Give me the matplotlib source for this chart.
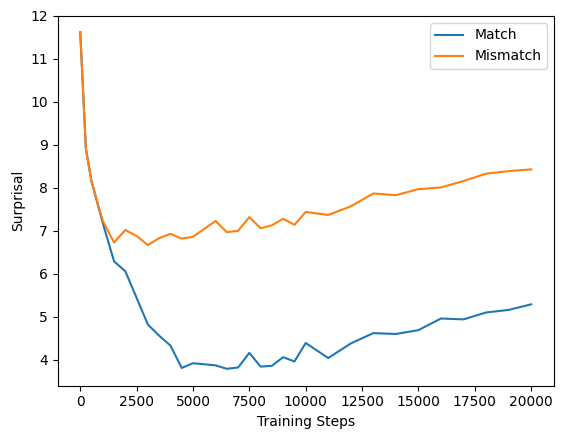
import matplotlib
matplotlib.use("Agg")
from matplotlib import pyplot as plt

# training checkpoints
steps = [0, 250, 500, 1000, 1500, 2000, 2500, 3000, 3500, 4000, 4500, 5000,
         6000, 6500, 7000, 7500, 8000, 8500, 9000, 9500, 10000,
         11000, 12000, 13000, 14000, 15000, 16000, 17000, 18000, 19000, 20000]

match = [11.62, 8.91, 8.15, 7.18, 6.29, 6.06, 5.44, 4.82, 4.56, 4.33, 3.81, 3.92,
         3.87, 3.79, 3.82, 4.16, 3.84, 3.86, 4.06, 3.96, 4.39,
         4.04, 4.38, 4.62, 4.60, 4.69, 4.96, 4.94, 5.10, 5.16, 5.29]

mismatch = [11.62, 8.91, 8.15, 7.23, 6.73, 7.02, 6.88, 6.67, 6.83, 6.93, 6.82, 6.86,
            7.23, 6.97, 7.00, 7.32, 7.06, 7.13, 7.28, 7.14, 7.44,
            7.37, 7.57, 7.87, 7.83, 7.97, 8.01, 8.16, 8.33, 8.39, 8.43]

fig, ax = plt.subplots(figsize=(5.63, 4.38), dpi=100)
fig.subplots_adjust(left=0.1025, right=0.9835, top=0.9635, bottom=0.1196)

ax.plot(steps, match, label="Match")
ax.plot(steps, mismatch, label="Mismatch")

ax.set_xlabel("Training Steps")
ax.set_ylabel("Surprisal")
ax.set_ylim(top=12)
ax.legend(loc="upper right")

fig.savefig("out.png", dpi=100)
